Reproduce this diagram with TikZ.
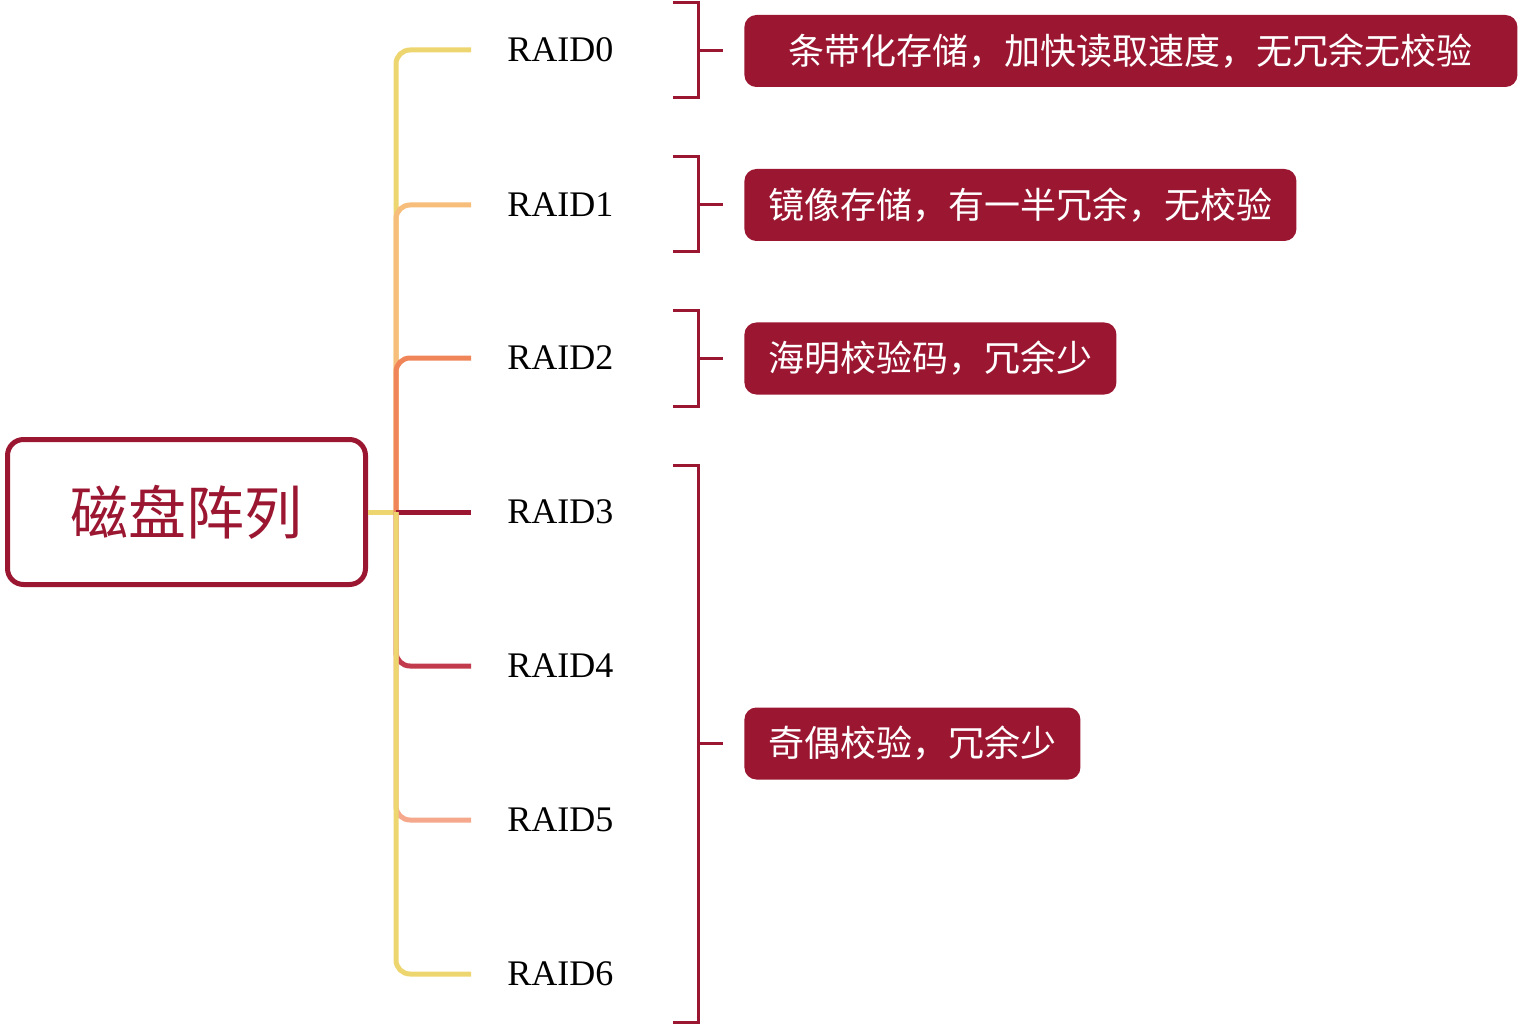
\documentclass[tikz,border=0pt]{standalone}
\usepackage{fontspec}
\setmainfont{Liberation Serif}
\newfontfamily\cjk{Noto Sans CJK SC}
\usetikzlibrary{positioning}
\definecolor{raidred}{HTML}{9B1631}
\definecolor{raidyellow}{HTML}{EDD670}
\definecolor{raidpeach}{HTML}{F7BD7A}
\definecolor{raidorange}{HTML}{F0855A}
\definecolor{raidrose}{HTML}{C23B4C}
\definecolor{raidsalmon}{HTML}{F5A88B}
\tikzset{
	rootbox/.style={draw=raidred, line width=2.5pt, rounded corners=8pt, minimum width=179pt, minimum height=72.5pt, text=raidred, font=\cjk\fontsize{29}{32}\selectfont},
	raidlabel/.style={anchor=west, inner sep=0pt, font=\fontsize{18}{20}\selectfont},
	notebox/.style={fill=raidred, rounded corners=6pt, anchor=west, minimum height=36pt, inner xsep=12pt, text=white, font=\cjk\fontsize{18}{20}\selectfont},
	branch/.style={line width=2.5pt, rounded corners=7pt},
	brace/.style={draw=raidred, line width=1.5pt}
}
\begin{document}
\begin{tikzpicture}[x=0.5pt, y=-0.5pt]
	\useasboundingbox (0,0) rectangle (1521,1027);
	% root
	\node[rootbox] (root) at (186.5,512) {磁盘阵列};
	\coordinate (hub) at (396,512);
	% levels
	\node[raidlabel] (r0) at (507,50) {RAID0};
	\node[raidlabel] (r1) at (507,205) {RAID1};
	\node[raidlabel] (r2) at (507,358) {RAID2};
	\node[raidlabel] (r3) at (507,512) {RAID3};
	\node[raidlabel] (r4) at (507,666) {RAID4};
	\node[raidlabel] (r5) at (507,820) {RAID5};
	\node[raidlabel] (r6) at (507,974) {RAID6};
	% branches
	\draw[branch, raidyellow] (root.east) -- (hub);
	\draw[branch, raidyellow] (hub) |- ([xshift=-18pt]r0.west);
	\draw[branch, raidpeach] (hub) |- ([xshift=-18pt]r1.west);
	\draw[branch, raidorange] (hub) |- ([xshift=-18pt]r2.west);
	\draw[branch, raidred] (hub) -- ([xshift=-18pt]r3.west);
	\draw[branch, raidrose] (hub) |- ([xshift=-18pt]r4.west);
	\draw[branch, raidsalmon] (hub) |- ([xshift=-18pt]r5.west);
	\draw[branch, raidyellow] (hub) |- ([xshift=-18pt]r6.west);
	% notes
	\node[notebox, minimum width=386.5pt] (n0) at (744,51) {条带化存储，加快读取速度，无冗余无校验};
	\node[notebox] (n1) at (744,205) {镜像存储，有一半冗余，无校验};
	\node[notebox] (n2) at (744,358.5) {海明校验码，冗余少};
	\node[notebox] (n3) at (744,743.5) {奇偶校验，冗余少};
	% brackets
	\foreach \top/\bot in {3/98, 157/252, 311/406, 465/1022}
		\draw[brace] (673,\top) -- (698,\top) -- (698,\bot) -- (673,\bot);
	\foreach \n in {n0,n1,n2,n3}
		\draw[brace] ([xshift=-23pt]\n.west) -- ([xshift=-10.5pt]\n.west);
\end{tikzpicture}
\end{document}
